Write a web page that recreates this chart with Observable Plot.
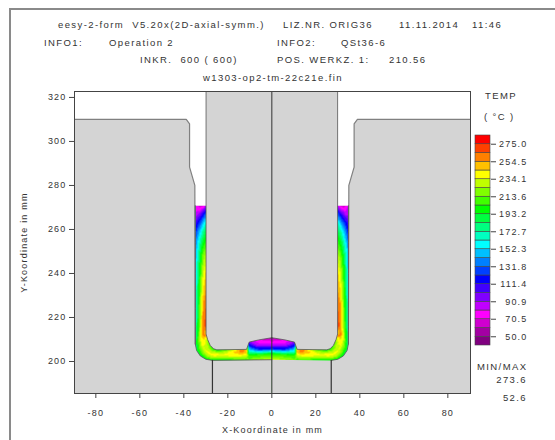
<!DOCTYPE html>
<html><head><meta charset="utf-8">
<script src="https://cdn.jsdelivr.net/npm/d3@7"></script>
<script src="https://cdn.jsdelivr.net/npm/@observablehq/plot@0.6"></script>
<style>
html,body{margin:0;padding:0;background:#fff;width:555px;height:440px;overflow:hidden}
#page{position:relative;width:555px;height:440px;overflow:hidden;font-family:"Liberation Sans",Arial,sans-serif;font-size:9.5px;color:#333}
#border{position:absolute;left:9px;top:8px;width:560px;height:450px;border:2px solid #8a8a8a;box-sizing:border-box}
.t{position:absolute;white-space:pre;letter-spacing:1.4px;line-height:12px;transform:translateY(-6px)}
.t.r{transform:translate(-100%,-6px)}
#main,#legend{position:absolute;top:0;left:0}
#legend{left:460px;top:135px}
svg{overflow:visible;background:transparent!important}
</style></head><body><div id="page"><div id="border"></div><div id="main"></div><div id="legend"></div></div>
<script>
// temperature classes
const thresholds = [50,60.2,70.5,80.7,90.9,101.1,111.4,121.6,131.8,142,152.3,162.5,172.7,183,193.2,203.4,213.6,223.9,234.1,244.3,254.5,264.8,275];
const classColors = ["#800080","#a300a3","#d000d0","#ff00ff","#c000ff","#8000ff","#4000ff","#0000ff","#0040ff","#0080ff","#00c0ff","#00ffff","#00ffc0","#00ff80","#00ff40","#00ff00","#40ff00","#80ff00","#c0ff00","#ffff00","#ffc000","#ff8000","#ff4000","#ff0000"];
const legendTicks = [50,70.5,90.9,111.4,131.8,152.3,172.7,193.2,213.6,234.1,254.5,275];

// workpiece cross-sections (mm), left half; outer die side -> inner punch side
const outerX = [-34.8,-34.8,-34.8,-34.8,-34.8,-34.8,-34.8,-34.8,-34.8,-34.8,-34.8,-34.8,-34.2,-32.5,-30,-27,-22,-18,-14,-11.5,-10.3,-6,0];
const outerY = [270.8,267,263,259,254,248,240,232,224,216,212,208,205,202.5,201,200.5,200.5,200.5,200.5,200.5,200.5,200.6,200.8];
const innerX = [-29.9,-29.9,-29.9,-29.9,-29.9,-29.9,-29.9,-29.9,-29.9,-29.9,-29.9,-29.9,-29.2,-28,-26.5,-25,-22,-18,-14,-11.5,-10.3,-6,0];
const innerY = [270.8,267,263,259,254,248,240,232,224,216,212,212.5,210,207.3,205.8,205.3,205.3,205.3,205.3,205.5,208.8,209.8,210.8];
const sectionTemps = [
 [80,70,65,70,85],[85,88,100,115,130],[105,118,132,150,165],[120,138,155,175,188],[135,155,178,196,206],
 [145,170,195,218,228],[150,180,210,235,245],[155,185,220,245,255],[160,190,228,258,265],[165,195,232,262,270],
 [170,202,240,262,262],[178,207,238,252,245],[184,212,235,238,225],[190,217,235,228,210],[194,222,238,225,200],
 [197,225,240,228,200],[197,222,238,228,205],[200,225,240,245,230],[205,225,240,258,262],[205,220,235,250,248],
 [215,205,165,125,95],[225,205,130,85,72],[232,205,118,78,58]];

// tool contours (mm), left side
const dieX = [-91,-38.9,-37.4,-37.4,-35,-34.8,-34.2,-32.5,-30,-27,0,0,-91];
const dieY = [310,310,308,288.3,280,208,205,202.5,201,200.5,200.8,185.45,185.45];
const punchX = [-29.9,-29.9,-29.2,-28,-26.5,-25,-11.5,-10.3,-6,0];
const punchY = [322.7,212.5,210,207.3,205.8,205.3,205.5,208.8,209.8,210.8];
const wallTop = 270.8;
const ejectorX = 27;

const xTicks = [-80,-60,-40,-20,0,20,40,60,80];
const yTicks = [200,220,240,260,280,300,320];
const xDomain = [-89.7,90.3], yDomain = [185.45,322.7];

const headerTexts = ["eesy-2-form  V5.20x(2D-axial-symm.)","LIZ.NR. ORIG36","11.11.2014","11:46","INFO1:","Operation 2","INFO2:","QSt36-6","INKR.  600 ( 600)","POS. WERKZ. 1:","210.56","w1303-op2-tm-22c21e.fin","TEMP","( °C )","MIN/MAX"];
const headerPos = [[58,25],[283,25],[399,25],[472,25],[44,43],[109,43],[277,43],[341,43],[140,60],[277,60],[389,60],[203,78],[485,96],[484,117],[477,367]];
const minMax = ["273.6","52.6"];
const minMaxPos = [[527,380],[527,398]];

const stations = [0,.25,.5,.75,1];
const samples = [];
outerX.forEach((ox,i)=>stations.forEach((f,j)=>{
  const x = ox+(innerX[i]-ox)*f, y = outerY[i]+(innerY[i]-outerY[i])*f, t = sectionTemps[i][j];
  samples.push({x,y,t});
  if (x!==0) samples.push({x:-x,y,t});
}));
const pts = (xs,ys,s=1)=>xs.map((x,i)=>({x:s*x,y:ys[i]}));
const punchLeft = pts(punchX,punchY);
const punch = punchLeft.concat(pts(punchX,punchY,-1).reverse());
const workBottom = [...pts(outerX.slice(0,16),outerY.slice(0,16)), {x:0,y:200.8}];
const gap = [{x:xDomain[0],y:wallTop},{x:xDomain[1],y:wallTop},{x:xDomain[1],y:yDomain[1]},{x:xDomain[0],y:yDomain[1]}];
const grey = "#d4d4d4";
const font = {fontFamily:'"Liberation Sans",Arial,sans-serif',fontSize:"9px",letterSpacing:"1.2px",color:"#333",background:"transparent"};
const colorScale = {type:"threshold",domain:thresholds,range:classColors};

const chart = Plot.plot({
  width:555,height:440,marginLeft:74,marginRight:85,marginTop:91,marginBottom:47,
  style:font,
  x:{domain:xDomain},y:{domain:yDomain},color:colorScale,
  marks:[
    Plot.raster(samples,{x:"x",y:"y",fill:"t",interpolate:"barycentric",pixelSize:1}),
    Plot.line(gap,{x:"x",y:"y",fill:"#fff",stroke:null}),
    Plot.line(pts(dieX,dieY),{x:"x",y:"y",fill:grey,stroke:null,clip:true}),
    Plot.line(pts(dieX,dieY,-1),{x:"x",y:"y",fill:grey,stroke:null,clip:true}),
    Plot.line(punch,{x:"x",y:"y",fill:grey,stroke:null}),
    Plot.line(pts(dieX.slice(0,6),dieY.slice(0,6)),{x:"x",y:"y",stroke:"#808080",strokeWidth:1.2,clip:true}),
    Plot.line(pts(dieX.slice(0,6),dieY.slice(0,6),-1),{x:"x",y:"y",stroke:"#808080",strokeWidth:1.2,clip:true}),
    Plot.line(workBottom,{x:"x",y:"y",stroke:"#555",strokeWidth:0.8}),
    Plot.line(pts(outerX.slice(0,16),outerY.slice(0,16),-1),{x:"x",y:"y",stroke:"#555",strokeWidth:0.8}),
    Plot.line(punchLeft,{x:"x",y:"y",stroke:"#555",strokeWidth:0.8}),
    Plot.line(pts(punchX,punchY,-1),{x:"x",y:"y",stroke:"#555",strokeWidth:0.8}),
    Plot.ruleX([-ejectorX,ejectorX],{y1:yDomain[0],y2:200.5,stroke:"#333",strokeWidth:1.2}),
    Plot.ruleX([0],{stroke:"#333",strokeWidth:1}),
    Plot.frame({stroke:"#444",strokeWidth:1}),
    Plot.axisX({ticks:xTicks,tickSize:5,tickPadding:11,fontSize:9,stroke:"#444",label:"X-Koordinate in mm",labelAnchor:"center",labelArrow:"none",labelOffset:39,tickFormat:d=>String(d)}),
    Plot.axisY({ticks:yTicks,tickSize:5,tickPadding:3,fontSize:9,stroke:"#444",label:"Y-Koordinate in mm",labelAnchor:"center",labelArrow:"none",labelOffset:54,tickFormat:d=>String(d)})
  ]
});
document.getElementById("main").append(chart);

const edges = [39.8,...thresholds,285.2];
const cells = classColors.map((c,i)=>({y1:edges[i],y2:edges[i+1],t:(edges[i]+edges[i+1])/2}));
const legend = Plot.plot({
  width:80,height:210,marginLeft:15,marginRight:50,marginTop:0,marginBottom:0,
  style:font,
  x:{domain:[0,1],axis:null},y:{domain:[edges[0],edges[24]]},color:colorScale,
  marks:[
    Plot.rect(cells,{x1:0,x2:1,y1:"y1",y2:"y2",fill:"t",stroke:"#444",strokeWidth:0.6}),
    Plot.axisY({anchor:"right",ticks:legendTicks,tickSize:5,tickPadding:32,fontSize:9,textAnchor:"end",stroke:"#444",label:null,tickFormat:d=>d.toFixed(1)})
  ]
});
document.getElementById("legend").append(legend);

const page = document.getElementById("page");
const addText = (s,p,cls)=>{const e=document.createElement("div");e.className=cls;e.textContent=s;e.style.left=p[0]+"px";e.style.top=p[1]+"px";page.append(e);};
headerTexts.forEach((s,i)=>addText(s,headerPos[i],"t"));
minMax.forEach((s,i)=>addText(s,minMaxPos[i],"t r"));
</script></body></html>
